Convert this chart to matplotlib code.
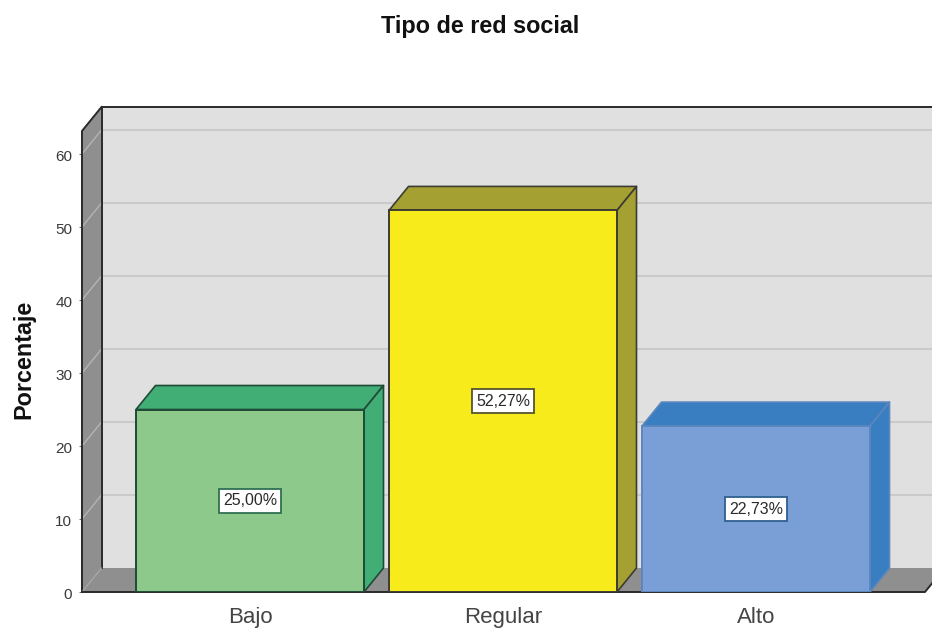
import matplotlib
matplotlib.use("Agg")
import matplotlib.pyplot as plt
from matplotlib.patches import Polygon
from matplotlib.transforms import ScaledTranslation

plt.rcParams['font.family'] = ['Liberation Sans', 'DejaVu Sans']

categories = ["Bajo", "Regular", "Alto"]
percentages = [25.00, 52.27, 22.73]
y_ticks = [0, 10, 20, 30, 40, 50, 60]
front_colors = ["#8CC98A", "#F7EB1B", "#7A9FD6"]
side_colors = ["#41AE76", "#A5A032", "#3A7EC2"]
edge_colors = ["#1F4A36", "#3C3C32", "#5B87BE"]
label_edge_colors = ["#2F6F52", "#55552F", "#2F5F92"]
title_text = "Tipo de red social"
y_label = "Porcentaje"

W, H = 932, 628
fig = plt.figure(figsize=(W / 100, H / 100), dpi=100, facecolor="white")

# pixel layout of the front plane
left, right, base, top = 82, 925, 592, 131
px_per_unit = 7.30
px_per_cat = 253.0
center0 = 250.0
bar_px = 228.0
depth_x_px, depth_y_px = 19.5, 24.0

ax = fig.add_axes([left / W, 1 - base / H, (right - left) / W, (base - top) / H])
ax.set_xlim((left - center0) / px_per_cat, (right - center0) / px_per_cat)
ax.set_ylim(0, (base - top) / px_per_unit)
ax.patch.set_visible(False)
for s in ax.spines.values():
    s.set_visible(False)

dx = depth_x_px / px_per_cat
dy = depth_y_px / px_per_unit
x0, x1 = ax.get_xlim()
y0, y1 = ax.get_ylim()

WALL = "#8F8F8F"
BACK = "#E0E0E0"
GRID = "#CACACA"
DARK = "#2A2A2A"

# back wall
ax.add_patch(Polygon([(x0 + dx, y0 + dy), (x1 + dx, y0 + dy), (x1 + dx, y1 + dy), (x0 + dx, y1 + dy)],
                     closed=True, fc=BACK, ec="none", zorder=1, clip_on=False))
# left wall
ax.add_patch(Polygon([(x0, y0), (x0 + dx, y0 + dy), (x0 + dx, y1 + dy), (x0, y1)],
                     closed=True, fc=WALL, ec="none", zorder=1.5, clip_on=False))
# floor
ax.add_patch(Polygon([(x0, y0), (x1, y0), (x1 + dx, y0 + dy), (x0 + dx, y0 + dy)],
                     closed=True, fc=WALL, ec="none", zorder=1.5, clip_on=False))

# gridlines
for t in y_ticks[1:]:
    ax.plot([x0 + dx, x1 + dx], [t + dy, t + dy], color=GRID, lw=1.5, zorder=2, clip_on=False)
    ax.plot([x0, x0 + dx], [t, t + dy], color="#B4B4B4", lw=1.0, zorder=2, clip_on=False)

# outlines
ax.plot([x0 + dx, x1 + dx], [y1 + dy, y1 + dy], color=DARK, lw=1.4, zorder=3, clip_on=False)
ax.plot([x0 + dx, x0 + dx], [y0 + dy, y1 + dy], color=DARK, lw=1.4, zorder=3, clip_on=False)
ax.plot([x0, x0, x0 + dx], [y0, y1, y1 + dy], color=DARK, lw=1.4, zorder=3, clip_on=False)
ax.plot([x0, x0 + dx], [y0, y0 + dy], color="#A8A8A8", lw=0.8, zorder=3, clip_on=False)
ax.plot([x0, x1, x1 + dx], [y0, y0, y0 + dy], color=DARK, lw=1.4, zorder=3, clip_on=False)

# bars
bw = bar_px / px_per_cat
xs = list(range(len(categories)))
ax.bar(xs, percentages, width=bw, color=front_colors, edgecolor=edge_colors, linewidth=1.4, zorder=5)
for x, v, sc, ec, lec in zip(xs, percentages, side_colors, edge_colors, label_edge_colors):
    l, r = x - bw / 2, x + bw / 2
    ax.add_patch(Polygon([(l, v), (r, v), (r + dx, v + dy), (l + dx, v + dy)],
                         closed=True, fc=sc, ec=ec, lw=1.2, zorder=4, joinstyle="round"))
    ax.add_patch(Polygon([(r, 0), (r + dx, dy), (r + dx, v + dy), (r, v)],
                         closed=True, fc=sc, ec=ec, lw=1.2, zorder=4, joinstyle="round"))
    ax.text(x, v / 2, f"{v:.2f}%".replace(".", ","), ha="center", va="center", fontsize=11.5,
            color="#2A2A2A", zorder=6,
            bbox=dict(boxstyle="square,pad=0.27", fc="white", ec=lec, lw=1.3))

# axes ticks and labels
ax.set_yticks(y_ticks)
ax.set_xticks(xs)
ax.set_xticklabels(categories, fontsize=16, color="#444444")
ax.tick_params(axis="x", length=0, pad=11)
ax.tick_params(axis="y", length=2, width=0.8, color="#777777", labelsize=11,
               labelcolor="#3A3A3A", pad=5)
shift = ScaledTranslation(0, -1.5 / 100, fig.dpi_scale_trans)
for lab in ax.get_yticklabels():
    lab.set_transform(lab.get_transform() + shift)

fig.text(480 / W, 1 - 26 / H, title_text, ha="center", va="center", fontsize=16.8,
         fontweight="bold", color="#111111")
fig.text(24 / W, 1 - 359 / H, y_label, ha="center", va="center", rotation=90, fontsize=16.8,
         fontweight="bold", color="#111111")

fig.savefig("out.png", dpi=100, facecolor="white")
